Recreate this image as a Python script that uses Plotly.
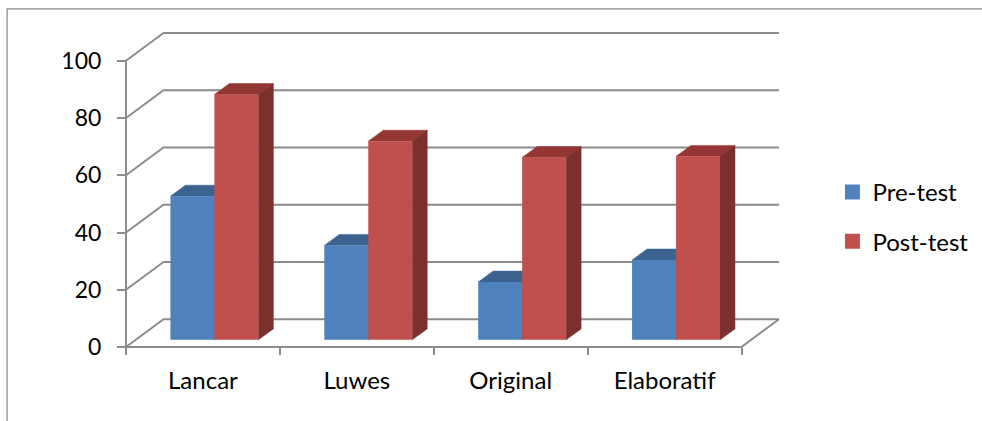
import plotly.graph_objects as go

categories = ["Lancar", "Luwes", "Original", "Elaboratif"]
pre_test = [50.2, 33.0, 20.2, 27.9]
post_test = [85.7, 69.4, 63.7, 64.1]
y_ticks = [0, 20, 40, 60, 80, 100]

BLUE, BLUE_TOP, BLUE_SIDE = "#4F81BD", "#3C6390", "#335479"
RED, RED_TOP, RED_SIDE = "#C0504D", "#943634", "#7B302E"
GREY = "#8C8C8C"
FAMILY = "Lato, Carlito, Calibri, sans-serif"
X_FONT = dict(family=FAMILY, size=24, color="#000000")
Y_FONT = dict(family=FAMILY, size=23, color="#000000")
LEGEND_FONT = dict(family=FAMILY, size=24, color="#000000")

# Oblique projection, expressed in axis units
WALL_DX, WALL_DY = 0.2435, 9.7     # from the front axis plane to the back wall
BAR_DX, BAR_DY = 0.0974, 3.83      # depth of one bar
BAR_BASE = 2.5                     # rise of the bar front above the axis line
BAR_WIDTH = 0.2857
PRE_X = 0.4316
POST_X = 0.7173

fig = go.Figure()


def wall_line(xs, ys):
    fig.add_trace(go.Scatter(x=xs, y=ys, mode="lines", cliponaxis=False,
                             line=dict(color=GREY, width=2, simplify=False),
                             showlegend=False, hoverinfo="skip"))


def face(xs, ys, color):
    fig.add_trace(go.Scatter(x=xs, y=ys, mode="lines", fill="toself", fillcolor=color,
                             cliponaxis=False, line=dict(color=color, width=0.5),
                             showlegend=False, hoverinfo="skip"))


# Wall gridlines, floor outline and the two front axis lines
n = len(categories)
for v in y_ticks:
    wall_line([0, WALL_DX, n + WALL_DX], [v, v + WALL_DY, v + WALL_DY])
wall_line([n + WALL_DX, n, 0], [WALL_DY, 0, 0])
wall_line([0, 0], [0, 100])

# Top and side faces of each bar; the fronts sit on an overlaid axis pair above them
for offset, values, top_c, side_c in [(PRE_X, pre_test, BLUE_TOP, BLUE_SIDE),
                                      (POST_X, post_test, RED_TOP, RED_SIDE)]:
    for i, v in enumerate(values):
        left = i + offset - BAR_WIDTH / 2
        right = i + offset + BAR_WIDTH / 2
        top = BAR_BASE + v
        face([left, left + BAR_DX, right + BAR_DX, right, left],
             [top, top + BAR_DY, top + BAR_DY, top, top], top_c)
        face([right, right + BAR_DX, right + BAR_DX, right, right],
             [BAR_BASE, BAR_BASE + BAR_DY, top + BAR_DY, top, BAR_BASE], side_c)

for name, offset, values, color in [("Pre-test", PRE_X, pre_test, BLUE),
                                    ("Post-test", POST_X, post_test, RED)]:
    fig.add_trace(go.Bar(x=[i + offset for i in range(n)], y=values,
                         base=[BAR_BASE] * n, width=BAR_WIDTH, name=name,
                         marker=dict(color=color, line=dict(width=0)),
                         xaxis="x2", yaxis="y2", showlegend=False))
    # Legend key with a larger square than a bar key allows
    fig.add_trace(go.Scatter(x=[None], y=[None], mode="markers", name=name, cliponaxis=False,
                             marker=dict(symbol="square", size=15, color=color),
                             legendgroup=name))

# Plot box in page pixels; a small pad keeps the outermost wall lines inside it
AXIS_X, AXIS_Y = 126, 347.5
PX_PER_CAT, PX_PER_UNIT = 154, 2.87
PAD = 4
x_range = [-PAD / PX_PER_CAT, n + WALL_DX + PAD / PX_PER_CAT]
y_range = [-PAD / PX_PER_UNIT, 100 + WALL_DY + PAD / PX_PER_UNIT]
LEFT = AXIS_X - PAD
BOTTOM_Y = AXIS_Y + PAD
PLOT_W = PX_PER_CAT * (x_range[1] - x_range[0])
PLOT_H = PX_PER_UNIT * (y_range[1] - y_range[0])


def paper_x(px):
    return (px - LEFT) / PLOT_W


def paper_y(py):
    return (BOTTOM_Y - py) / PLOT_H


fig.update_layout(
    width=982, height=421,
    margin=dict(l=LEFT, r=982 - LEFT - PLOT_W, t=BOTTOM_Y - PLOT_H, b=421 - BOTTOM_Y,
                pad=0, autoexpand=False),
    paper_bgcolor="white", plot_bgcolor="rgba(0,0,0,0)",
    font=Y_FONT, barmode="overlay",
    xaxis=dict(range=x_range, tickmode="array", anchor="free", position=paper_y(AXIS_Y),
               tickvals=[i + 0.5 for i in range(n)], ticktext=categories,
               ticks="", showgrid=False, zeroline=False, showline=False,
               ticklabelstandoff=17, tickfont=X_FONT, fixedrange=True,
               minor=dict(tickmode="array", tickvals=list(range(n + 1)), ticks="outside",
                          ticklen=7, tickwidth=1.6, tickcolor=GREY, showgrid=False)),
    yaxis=dict(range=y_range, tickmode="array", tickvals=y_ticks,
               anchor="free", position=paper_x(AXIS_X),
               ticks="outside", ticklen=9, tickwidth=1.6, tickcolor=GREY,
               showgrid=False, zeroline=False, showline=False,
               ticklabelstandoff=11, tickfont=Y_FONT, fixedrange=True),
    xaxis2=dict(range=x_range, overlaying="x", visible=False, fixedrange=True),
    yaxis2=dict(range=y_range, overlaying="y", visible=False, fixedrange=True),
    legend=dict(x=paper_x(844), y=paper_y(170), xanchor="left", yanchor="top",
                font=LEGEND_FONT, tracegroupgap=15, bgcolor="rgba(0,0,0,0)",
                itemwidth=30, indentation=-11),
    shapes=[dict(type="path", xref="paper", yref="paper",
                 path=f"M {paper_x(7)} {paper_y(425)} "
                      f"L {paper_x(7)} {paper_y(8.5)} "
                      f"L {paper_x(985)} {paper_y(8.5)}",
                 line=dict(color="#868686", width=1.2))],
)

fig.write_html("out.html")
